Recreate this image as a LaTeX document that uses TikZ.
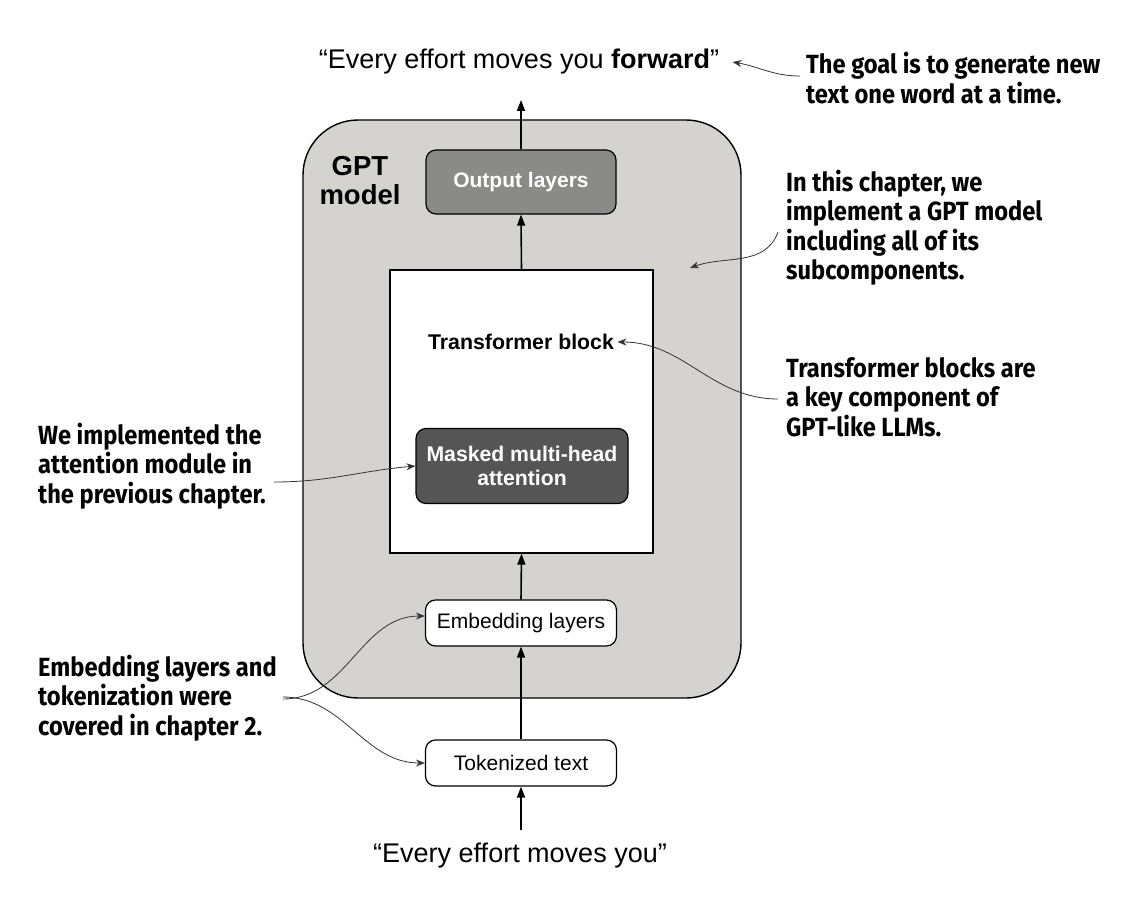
\documentclass[tikz,border=0pt]{standalone}
\usepackage{fontspec}
\usepackage{tikz}
\usetikzlibrary{arrows.meta}
\setmainfont{Liberation Sans}
\newfontfamily\notefont[FakeStretch=0.9]{Fira Sans}
\definecolor{modelgray}{HTML}{D4D3D0}
\definecolor{outgray}{HTML}{8A8A88}
\definecolor{attgray}{HTML}{555555}

\begin{document}
\begin{tikzpicture}[x=1pt, y=-1pt,
  box/.style = {draw, line width=1.2pt, rounded corners=10pt, font=\fontsize{21}{24}\selectfont},
  flow/.style = {-{Triangle[length=11pt,width=8pt]}, line width=1.6pt},
  note/.style = {font=\notefont\bfseries\fontsize{26.3}{29.5}\selectfont, align=left, inner sep=0pt},
  link/.style = {-{Stealth[length=9pt,width=7pt]}, line width=0.8pt, black!80}]
\useasboundingbox (0,0) rectangle (1126,896);
% model frame
\node[draw, line width=1.4pt, fill=modelgray, rounded corners=55pt,
  minimum width=438pt, minimum height=578pt] (gpt) at (522,409) {};
\node[font=\bfseries\fontsize{27.5}{29}\selectfont, align=center] (gptlabel) at (360,181) {GPT\\model};
% blocks
\node[box, fill=outgray, text=white, font=\bfseries\fontsize{21}{24}\selectfont,
  minimum width=190pt, minimum height=64pt] (out) at (521,182) {Output layers};
\node[draw, line width=1.2pt, fill=white, minimum width=263pt, minimum height=283pt] (tb) at (521.5,411.5) {};
\node[font=\bfseries\fontsize{21.3}{24}\selectfont] (tbtext) at (521,342) {Transformer block};
\node[box, fill=attgray, text=white, font=\bfseries\fontsize{21.2}{24}\selectfont, align=center,
  minimum width=212pt, minimum height=75pt] (att) at (522,466) {Masked multi-head\\attention};
\node[box, fill=white, minimum width=191pt, minimum height=46pt] (emb) at (521,623) {Embedding layers};
\node[box, fill=white, minimum width=191pt, minimum height=46pt] (tok) at (521,763) {Tokenized text};
% input / output text
\node[font=\fontsize{27}{30}\selectfont] (outtext) at (519,62) {“Every effort moves you \textbf{forward}”};
\node[font=\fontsize{27}{30}\selectfont] (intext) at (520,856) {“Every effort moves you”};
\coordinate (inarrow) at (521,830);
% main flow
\draw[flow] (inarrow) -- (tok.north |- tok.south);
\draw[flow] (tok.north) -- (emb.south);
\draw[flow] (emb.north) -- (tb.south);
\draw[flow] (tb.north) -- (out.south);
\draw[flow] (out.north) -- (521,100);
% notes
\node[note, anchor=west] (goal) at (806,78) {The goal is to generate new\\text one word at a time.};
\node[note, anchor=west] (chapter) at (786,228) {In this chapter, we\\implement a GPT model\\including all of its\\subcomponents.};
\node[note, anchor=west] (blocks) at (786,397) {Transformer blocks are\\a key component of\\GPT-like LLMs.};
\node[note, anchor=west] (prev) at (38,466) {We implemented the\\attention module in\\the previous chapter.};
\node[note, anchor=west] (embnote) at (38,698) {Embedding layers and\\tokenization were\\covered in chapter 2.};
\draw[link] ([xshift=-6pt,yshift=2pt]goal.west) to[out=180, in=-10] ([xshift=10pt]outtext.east);
\draw[link] ([xshift=-8pt,yshift=-4pt]chapter.west) to[out=-110, in=20] (690,268);
\draw[link] ([xshift=-8pt,yshift=-2pt]blocks.west) to[out=180, in=0] (tbtext.east);
\draw[link] ([xshift=8pt,yshift=-16pt]prev.east) to[out=0, in=185] (att.west);
\draw[link] ([xshift=6pt,yshift=-1pt]embnote.east) to[out=0, in=180] ([yshift=7pt]emb.west);
\draw[link] ([xshift=6pt,yshift=1pt]embnote.east) to[out=0, in=180] (tok.west);
\end{tikzpicture}
\end{document}
